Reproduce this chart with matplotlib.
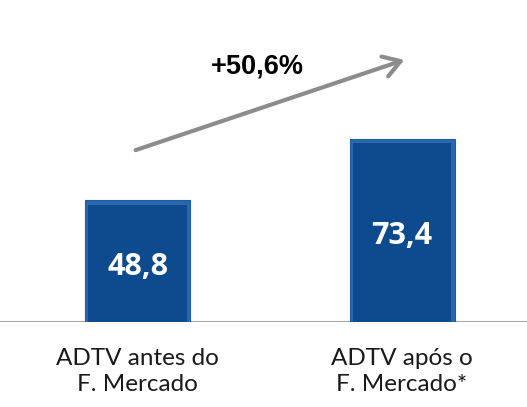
import matplotlib.pyplot as plt
from matplotlib.patches import FancyArrowPatch, Rectangle

categories = ['ADTV antes do\nF. Mercado', 'ADTV após o\nF. Mercado*']
values = [48.8, 73.4]
value_labels = ['48,8', '73,4']
growth_label = '+50,6%'

fig = plt.figure(figsize=(5.27, 4.07), dpi=100)
ax = fig.add_axes([0, 85 / 407, 1, 322 / 407])

x = [0, 1]
bars = ax.bar(x, values, width=0.397, color='#2A67AE', edgecolor='#1E5CA3',
              linewidth=0.8, zorder=2)
# bevelled look: darker inner face
dx, dy = 0.012, 1.8
for b, lab in zip(bars, value_labels):
    ax.add_patch(Rectangle((b.get_x() + dx, 0), b.get_width() - 2 * dx,
                           b.get_height() - dy, color='#0D4A8E', zorder=2.5,
                           linewidth=0))
    ax.text(b.get_x() + b.get_width() / 2, b.get_height() / 2 - 2.5, lab,
            ha='center', va='center', color='white', fontsize=22,
            fontweight='bold', family='Open Sans', zorder=3)

ax.set_xlim(-0.52, 1.4726)
ax.set_ylim(0, 128.8)
ax.axis('off')
ax.axhline(0, color='#A6A6A6', linewidth=1.5, zorder=1)

for xi, cat in zip(x, categories):
    ax.text(xi, -10.5, cat, ha='center', va='top', fontsize=17.5,
            family='Lato', color='#1a1a1a', linespacing=1.3)

# growth arrow, in figure pixel coords
fig.patches.append(FancyArrowPatch(
    (133 / 527, 1 - 151 / 407), (407 / 527, 1 - 59 / 407),
    transform=fig.transFigure, arrowstyle='->,head_length=8,head_width=5',
    color='#8C8C8C', linewidth=3, mutation_scale=1.5))
fig.text(257 / 527, 1 - 66 / 407, growth_label, ha='center', va='center',
         fontsize=19.5, fontweight='bold', family='Liberation Sans')

plt.savefig('out.png', dpi=100)
